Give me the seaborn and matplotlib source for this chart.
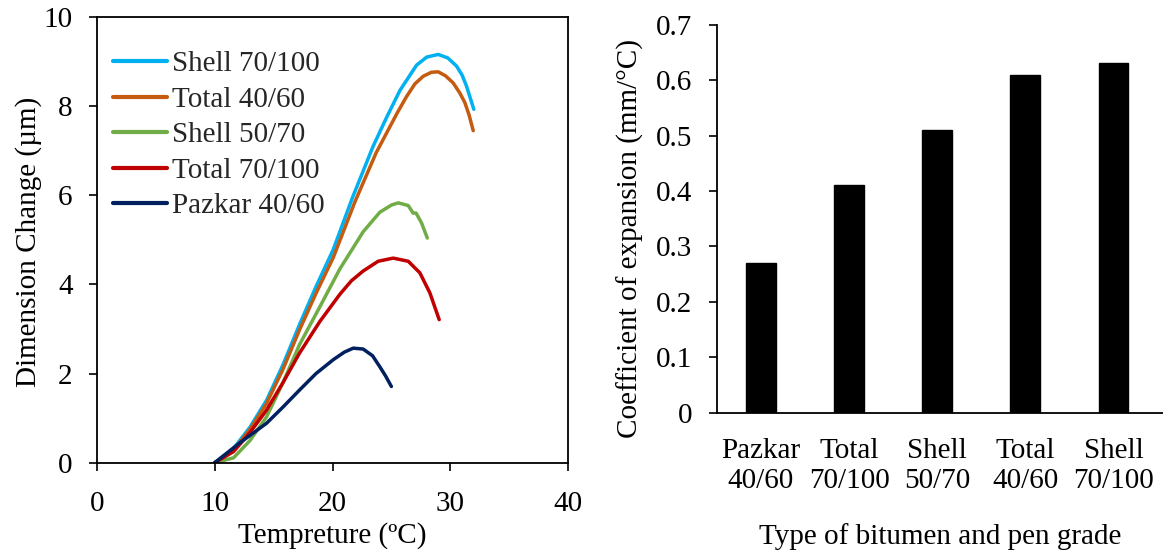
import numpy as np
import pandas as pd
import matplotlib
matplotlib.use("Agg")
import matplotlib.pyplot as plt
import seaborn as sns
from matplotlib.ticker import FuncFormatter

sns.set_theme(style="white")
plt.rcParams['font.family'] = ['Liberation Serif', 'DejaVu Serif']

# ---------------- data ----------------
series_names = ["Shell 70/100", "Total 40/60", "Shell 50/70", "Total 70/100", "Pazkar 40/60"]
series_colors = ["#00B0F0", "#C55A11", "#70AD47", "#C00000", "#002060"]

shell70_x = [10, 11.6, 13, 14.4, 15.8, 17.2, 18.6, 20.06, 21.7, 23.45, 24.6, 25.72, 27.14, 28.0, 28.98, 29.8, 30.53, 31.0, 31.38, 32.0]
shell70_y = [0, 0.32, 0.8, 1.4, 2.2, 3.1, 3.95, 4.78, 5.95, 7.1, 7.75, 8.35, 8.92, 9.1, 9.16, 9.08, 8.9, 8.7, 8.45, 7.93]

total40_x = [10, 11.6, 13, 14.4, 15.8, 17.2, 18.6, 20.06, 21.9, 23.7, 24.6, 25.5, 26.3, 27.0, 27.7, 28.4, 28.98, 29.6, 30.25, 30.8, 31.24, 31.6, 31.95]
total40_y = [0, 0.28, 0.75, 1.33, 2.1, 2.98, 3.8, 4.6, 5.85, 6.95, 7.4, 7.85, 8.22, 8.5, 8.67, 8.76, 8.77, 8.68, 8.52, 8.3, 8.08, 7.8, 7.45]

shell50_x = [10, 11.6, 13, 14.4, 15.8, 17.2, 18.93, 20.63, 21.75, 22.6, 24.02, 25.0, 25.58, 26.43, 26.85, 27.1, 27.56, 28.05]
shell50_y = [0, 0.11, 0.5, 1.03, 1.8, 2.65, 3.5, 4.35, 4.82, 5.18, 5.62, 5.78, 5.83, 5.77, 5.6, 5.6, 5.38, 5.04]

total70_x = [10, 11.6, 13, 14.4, 15.8, 17.2, 18.93, 20.63, 21.6, 22.6, 23.88, 25.15, 26.43, 27.42, 28.27, 29.06]
total70_y = [0, 0.25, 0.68, 1.18, 1.8, 2.46, 3.17, 3.78, 4.08, 4.3, 4.52, 4.59, 4.52, 4.26, 3.81, 3.21]

pazkar_x = [10, 12.1, 14.4, 15.8, 17.2, 18.6, 20.06, 21.0, 21.76, 22.6, 23.4, 24.0, 24.5, 25.0]
pazkar_y = [0, 0.44, 0.885, 1.25, 1.63, 2.0, 2.31, 2.48, 2.57, 2.55, 2.4, 2.16, 1.95, 1.71]

bar_categories = ["Pazkar\n40/60", "Total\n70/100", "Shell\n50/70", "Total\n40/60", "Shell\n70/100"]
bar_values = [0.27, 0.41, 0.51, 0.61, 0.63]

left_xticks = [0, 10, 20, 30, 40]
left_yticks = [0, 2, 4, 6, 8, 10]
right_yticks = [0, 0.1, 0.2, 0.3, 0.4, 0.5, 0.6, 0.7]

# ---------------- figure ----------------
FS = 21
W, H = 1163, 550
fig = plt.figure(figsize=(W / 100, H / 100), dpi=100)
ax1 = fig.add_axes([97 / W, 1 - 462.7 / H, (568 - 97) / W, (462.7 - 17) / H])
ax2 = fig.add_axes([716.8 / W, 1 - 412.8 / H, (W - 716.8) / W, (412.8 - 24.6) / H])

all_x = [shell70_x, total40_x, shell50_x, total70_x, pazkar_x]
all_y = [shell70_y, total40_y, shell50_y, total70_y, pazkar_y]
frames = []
for name, xs, ys in zip(series_names, all_x, all_y):
    frames.append(pd.DataFrame({"x": xs, "y": ys, "series": name}))
df = pd.concat(frames, ignore_index=True)

sns.lineplot(data=df, x="x", y="y", hue="series", hue_order=series_names,
             palette=dict(zip(series_names, series_colors)), sort=False,
             estimator=None, units="series", linewidth=2.5, ax=ax1)
for ln in ax1.get_lines():
    ln.set_solid_joinstyle("round")
    ln.set_solid_capstyle("round")

ax1.set_xlim(0, 40)
ax1.set_ylim(0, 10)
ax1.set_xticks(left_xticks)
ax1.set_yticks(left_yticks)
ax1.set_xlabel("Tempreture (ºC)", fontsize=FS, color="black")
ax1.set_ylabel("Dimension Change (µm)", fontsize=FS, color="black")
ax1.xaxis.set_label_coords(0.5, -0.133)
ax1.yaxis.set_label_coords(-0.117, 0.496)
ax1.tick_params(axis="x", direction="out", length=6, width=1.2, pad=14.4,
                labelsize=FS, colors="black", bottom=True)
ax1.tick_params(axis="y", direction="out", length=6, width=1.2, pad=11.5,
                labelsize=FS, colors="black", left=True)
for s in ax1.spines.values():
    s.set_visible(True)
    s.set_color("black")
    s.set_linewidth(1.3)

leg = ax1.legend(loc="upper left", bbox_to_anchor=(0.01, 0.950), frameon=False,
                 fontsize=FS, handlelength=1.83, handletextpad=0.17,
                 labelspacing=0.31, borderaxespad=0.0)
for line in leg.get_lines():
    line.set_linewidth(3.0)

# ---------------- bars ----------------
bdf = pd.DataFrame({"cat": bar_categories, "val": bar_values})
sns.barplot(data=bdf, x="cat", y="val", color="black", width=0.338,
            saturation=1, ax=ax2, errorbar=None)
for p in ax2.patches:
    p.set_edgecolor("black")
ax2.set_xlim(-0.5, -0.5 + (W - 716.8) / 88.15)
ax2.set_ylim(0, 0.7)
ax2.set_yticks(right_yticks)
ax2.yaxis.set_major_formatter(FuncFormatter(lambda v, pos: "0" if abs(v) < 1e-9 else f"{v:.1f}"))
ax2.set_xlabel("Type of bitumen and pen grade", fontsize=FS, color="black")
ax2.set_ylabel("Coefficient of expansion (mm/°C)", fontsize=FS, color="black")
ax2.xaxis.set_label_coords(0.5, -0.284)
ax2.yaxis.set_label_coords(-0.164, 0.449)
ax2.tick_params(axis="y", direction="out", length=6, width=1.2, pad=11.5,
                labelsize=FS, colors="black", left=True)
ax2.tick_params(axis="x", length=0, labelsize=FS, colors="black", pad=18)
for lbl in ax2.get_xticklabels():
    lbl.set_multialignment("center")
    lbl.set_linespacing(1.2)
ax2.spines["top"].set_visible(False)
ax2.spines["right"].set_visible(False)
for side in ("left", "bottom"):
    ax2.spines[side].set_color("black")
    ax2.spines[side].set_linewidth(1.3)

fig.savefig("out.png", dpi=100)
